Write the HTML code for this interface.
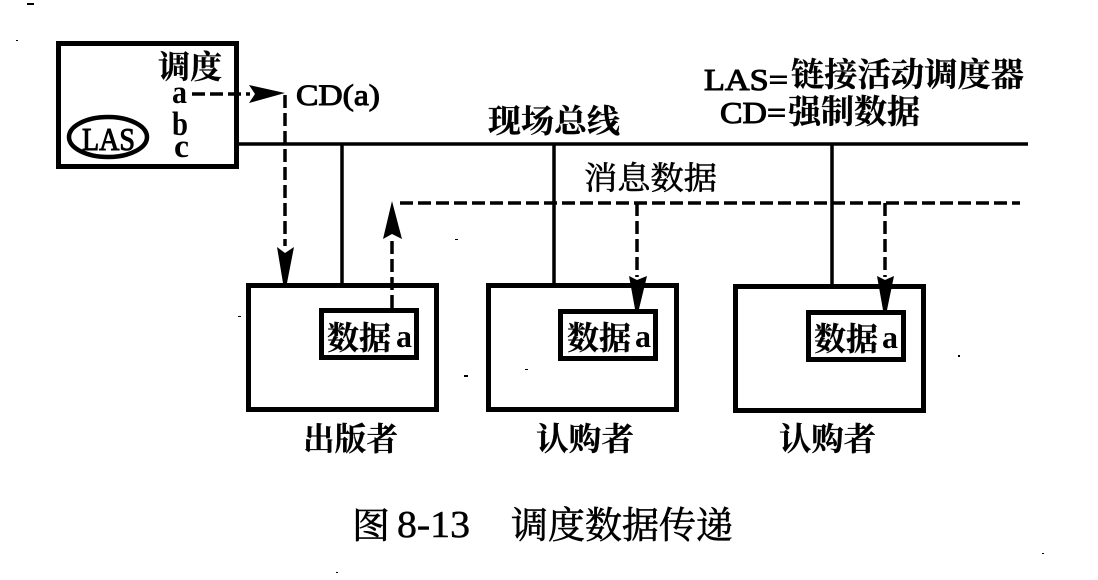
<!DOCTYPE html>
<html><head><meta charset="utf-8">
<style>
html,body{margin:0;padding:0;background:#fff}
svg{display:block}
text{fill:#000}
.s{font-family:"Liberation Serif","Noto Serif CJK SC",serif;font-weight:700}
.m{font-family:"Liberation Serif","Noto Serif CJK SC",serif;font-weight:700;stroke:#000;stroke-width:.3px}
.r{font-family:"Liberation Serif","Noto Serif CJK SC",serif;font-weight:400;stroke:#000;stroke-width:.6px}
.l{font-family:"Liberation Serif",serif;font-weight:700}
.t{font-family:"Liberation Serif",serif;font-weight:400;stroke:#000;stroke-width:1px}
.c{font-family:"Liberation Serif",serif;font-weight:400;stroke:#000;stroke-width:.5px}
</style></head><body>
<svg width="1098" height="580" viewBox="0 0 1098 580" xmlns="http://www.w3.org/2000/svg">
<rect width="1098" height="580" fill="#fff"/>
<g fill="none" stroke="#000">
<rect x="58.5" y="43.5" width="178" height="123" stroke-width="5"/>
<ellipse cx="108" cy="137" rx="39" ry="20" stroke-width="4.5"/>
<path d="M238 144H1028" stroke-width="3.5"/>
<path d="M342 144V284M554 144V284M832 144V284" stroke-width="3.5"/>
<rect x="248.500" y="285.500" width="188" height="124" stroke-width="5"/>
<rect x="488.500" y="285.500" width="188" height="124" stroke-width="5"/>
<rect x="735.500" y="286.500" width="188" height="124" stroke-width="5"/>
<rect x="321.500" y="310.500" width="95" height="47" stroke-width="5"/>
<rect x="560.500" y="311.500" width="95" height="47" stroke-width="5"/>
<rect x="808.500" y="312.500" width="95" height="47" stroke-width="5"/>
<g stroke-width="3.500" stroke-dasharray="13 5">
<path d="M192 94H250"/>
<path d="M285 95V246"/>
<path d="M392 308V240"/>
<path d="M400 203H1020"/>
<path d="M637 203V277"/>
<path d="M885 203V277"/>
</g>
</g>
<g fill="#000">
<path d="M249 85L285 93L249 103L255 94Z"/>
<path d="M277 247L285 253L294 247L287 283H283Z"/>
<path d="M392 201L402 239L392 234L383 239Z"/>
<path d="M629 276L637 280L647 276L639 309H635Z"/>
<path d="M877 276L885 280L894 276L887 310H883Z"/>
<rect x="27" y="3" width="7" height="2"/>
</g>
<text class="m" x="158" y="78" font-size="32" textLength="64" lengthAdjust="spacingAndGlyphs">调度</text>
<text class="l" x="172" y="103" font-size="33" textLength="15" lengthAdjust="spacingAndGlyphs">a</text>
<text class="l" x="172" y="135" font-size="34" textLength="16" lengthAdjust="spacingAndGlyphs">b</text>
<text class="l" x="174" y="157" font-size="33" textLength="15" lengthAdjust="spacingAndGlyphs">c</text>
<text class="t" x="82" y="150" font-size="32" textLength="53" lengthAdjust="spacingAndGlyphs">LAS</text>
<text class="t" x="296" y="105" font-size="30" textLength="84" lengthAdjust="spacingAndGlyphs">CD(a)</text>
<text class="m" x="488" y="132" font-size="32" textLength="132" lengthAdjust="spacingAndGlyphs">现场总线</text>
<text class="r" x="584" y="189" font-size="32" textLength="133" lengthAdjust="spacingAndGlyphs">消息数据</text>
<text class="t" x="704" y="90" font-size="31" textLength="84" lengthAdjust="spacingAndGlyphs">LAS=</text>
<text class="m" x="791" y="86" font-size="33" textLength="233" lengthAdjust="spacingAndGlyphs">链接活动调度器</text>
<text class="t" x="720" y="123" font-size="31" textLength="66" lengthAdjust="spacingAndGlyphs">CD=</text>
<text class="m" x="788" y="123" font-size="33" textLength="132" lengthAdjust="spacingAndGlyphs">强制数据</text>
<text class="m" x="327" y="349" font-size="32" textLength="64" lengthAdjust="spacingAndGlyphs">数据</text>
<text class="l" x="396" y="347" font-size="32" textLength="16" lengthAdjust="spacingAndGlyphs">a</text>
<text class="m" x="567" y="349" font-size="32" textLength="64" lengthAdjust="spacingAndGlyphs">数据</text>
<text class="l" x="635" y="347" font-size="32" textLength="16" lengthAdjust="spacingAndGlyphs">a</text>
<text class="m" x="814" y="350" font-size="32" textLength="64" lengthAdjust="spacingAndGlyphs">数据</text>
<text class="l" x="882" y="348" font-size="32" textLength="16" lengthAdjust="spacingAndGlyphs">a</text>
<text class="m" x="303" y="450" font-size="32" textLength="95" lengthAdjust="spacingAndGlyphs">出版者</text>
<text class="m" x="536" y="450" font-size="32" textLength="98" lengthAdjust="spacingAndGlyphs">认购者</text>
<text class="m" x="779" y="450" font-size="32" textLength="97" lengthAdjust="spacingAndGlyphs">认购者</text>
<text class="r" x="352" y="538" font-size="36" textLength="38" lengthAdjust="spacingAndGlyphs">图</text>
<text class="c" x="397" y="537" font-size="38" textLength="73" lengthAdjust="spacingAndGlyphs">8-13</text>
<text class="r" x="511" y="538" font-size="37" textLength="222" lengthAdjust="spacingAndGlyphs">调度数据传递</text>
<g fill="#000">
<rect x="16" y="40" width="2" height="1"/>
<rect x="238" y="316" width="3" height="1"/>
<rect x="455" y="239" width="3" height="1"/>
<rect x="464" y="375" width="4" height="2"/>
<rect x="525" y="369" width="3" height="1"/>
<rect x="958" y="355" width="2" height="2"/>
<rect x="336" y="572" width="2" height="1"/>
<rect x="1042" y="553" width="2" height="1"/>
</g>
</svg>
</body></html>
